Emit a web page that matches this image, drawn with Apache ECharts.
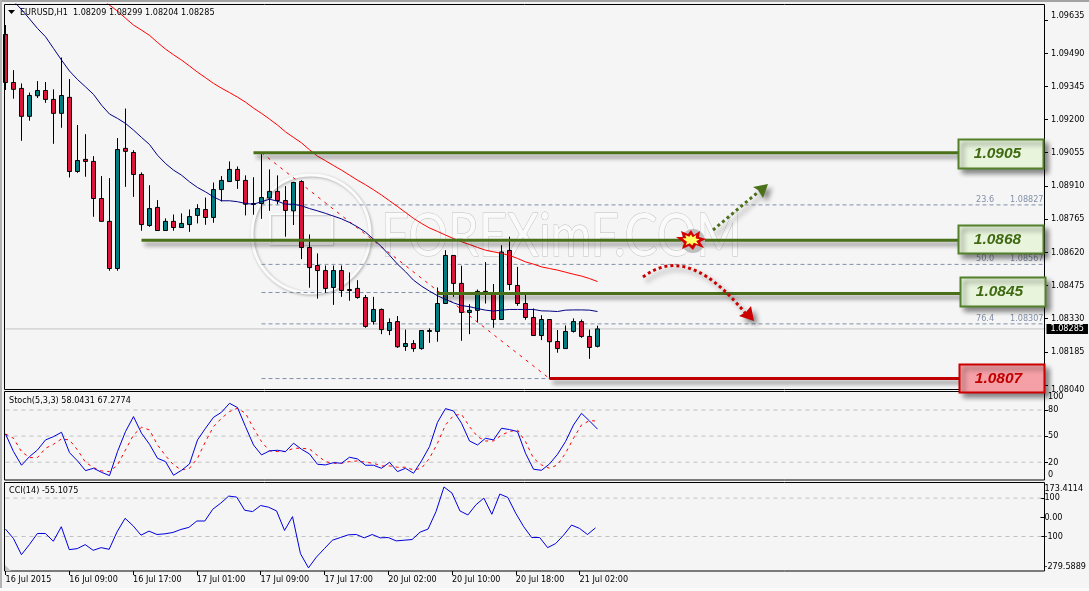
<!DOCTYPE html>
<html>
<head>
<meta charset="utf-8">
<script src="https://cdn.jsdelivr.net/npm/echarts@6/dist/echarts.min.js"></script>
<style>html,body{margin:0;padding:0;background:#f5f5f5}#c{width:1089px;height:591px}</style>
</head>
<body>
<div id="c"></div>
<script>
const timeLabels = ['16 Jul 2015','16 Jul 09:00','16 Jul 17:00','17 Jul 01:00','17 Jul 09:00','17 Jul 17:00','20 Jul 02:00','20 Jul 10:00','20 Jul 18:00','21 Jul 02:00'];
const opens = [1.09572,1.09362,1.09336,1.09214,1.09304,1.09327,1.09288,1.09227,1.09297,1.08973,
1.09026,1.09017,1.08855,1.08755,1.08549,1.09074,1.09056,1.08960,1.08737,1.08816,
1.08715,1.08755,1.08728,1.08741,1.08781,1.08807,1.08772,1.08894,1.08929,1.08982,
1.08934,1.08833,1.08833,1.08857,1.08886,1.08846,1.08801,1.08929,1.08641,1.08562,
1.08540,1.08466,1.08540,1.08457,1.08462,1.08422,1.08317,1.08370,1.08278,1.08317,
1.08208,1.08221,1.08199,1.08274,1.08274,1.08396,1.08606,1.08484,1.08357,1.08366,
1.08449,1.08440,1.08326,1.08628,1.08475,1.08396,1.08335,1.08256,1.08326,1.08230,
1.08199,1.08274,1.08317,1.08252,1.08209];
const closes = [1.09362,1.09332,1.09214,1.09305,1.09327,1.09288,1.09227,1.09305,1.08973,1.09021,
1.09017,1.08855,1.08755,1.08549,1.09069,1.09061,1.08960,1.08741,1.08811,1.08715,
1.08755,1.08728,1.08746,1.08776,1.08811,1.08772,1.08894,1.08934,1.08982,1.08934,
1.08830,1.08829,1.08859,1.08886,1.08846,1.08803,1.08925,1.08641,1.08553,1.08540,
1.08462,1.08540,1.08453,1.08453,1.08422,1.08296,1.08370,1.08282,1.08313,1.08207,
1.08221,1.08199,1.08278,1.08278,1.08396,1.08606,1.08484,1.08357,1.08366,1.08449,
1.08444,1.08326,1.08621,1.08479,1.08396,1.08335,1.08256,1.08326,1.08229,1.08199,
1.08274,1.08317,1.08252,1.08204,1.08285];
const highs = [1.09613,1.09416,1.09358,1.09318,1.09368,1.09364,1.09332,1.09471,1.09377,1.09176,
1.09136,1.09040,1.08953,1.08944,1.09119,1.09248,1.09066,1.08969,1.08913,1.08848,
1.08768,1.08785,1.08790,1.08807,1.08830,1.08859,1.08925,1.08953,1.09017,1.08995,
1.08956,1.08948,1.09049,1.08982,1.08956,1.08909,1.08928,1.08935,1.08698,1.08615,
1.08562,1.08562,1.08562,1.08532,1.08498,1.08433,1.08425,1.08374,1.08331,1.08341,
1.08282,1.08236,1.08278,1.08287,1.08466,1.08629,1.08606,1.08561,1.08393,1.08457,
1.08577,1.08481,1.08651,1.08688,1.08556,1.08433,1.08374,1.08345,1.08326,1.08280,
1.08300,1.08331,1.08326,1.08282,1.08299];
const lows = [1.09329,1.09291,1.09107,1.09195,1.09294,1.09273,1.09094,1.09164,1.08947,1.08967,
1.08950,1.08775,1.08755,1.08539,1.08539,1.08906,1.08862,1.08714,1.08731,1.08715,
1.08715,1.08714,1.08728,1.08709,1.08746,1.08740,1.08749,1.08842,1.08929,1.08897,
1.08781,1.08784,1.08766,1.08801,1.08830,1.08688,1.08739,1.08590,1.08465,1.08417,
1.08443,1.08390,1.08425,1.08408,1.08417,1.08290,1.08304,1.08262,1.08258,1.08202,
1.08189,1.08185,1.08194,1.08224,1.08229,1.08396,1.08425,1.08233,1.08262,1.08313,
1.08396,1.08290,1.08326,1.08454,1.08386,1.08325,1.08256,1.08236,1.08068,1.08181,
1.08199,1.08269,1.08246,1.08154,1.08204];
const maBlue = [null,1.09718,1.09681,1.09640,1.09598,1.09562,1.09511,1.09460,1.09412,1.09375,
1.09343,1.09310,1.09263,1.09224,1.09205,1.09183,1.09154,1.09122,1.09091,1.09044,
1.09008,1.08979,1.08957,1.08928,1.08903,1.08884,1.08862,1.08845,1.08845,1.08841,
1.08833,1.08830,1.08841,1.08852,1.08843,1.08830,1.08830,1.08823,1.08811,1.08801,
1.08790,1.08778,1.08766,1.08750,1.08731,1.08708,1.08677,1.08644,1.08607,1.08568,
1.08535,1.08498,1.08472,1.08450,1.08430,1.08414,1.08399,1.08387,1.08382,1.08374,
1.08367,1.08363,1.08367,1.08370,1.08370,1.08370,1.08370,1.08364,1.08363,1.08361,
1.08367,1.08368,1.08368,1.08367,1.08361];
const maRed = [null,null,null,null,null,null,null,null,null,null,null,null,1.09729,1.09700,1.09674,1.09643,1.09613,1.09591,1.09568,1.09537,
1.09508,1.09483,1.09460,1.09434,1.09407,1.09383,1.09358,1.09337,1.09318,1.09298,
1.09276,1.09250,1.09227,1.09202,1.09176,1.09146,1.09122,1.09098,1.09068,1.09040,
1.09020,1.08999,1.08979,1.08957,1.08935,1.08915,1.08893,1.08870,1.08845,1.08820,
1.08794,1.08768,1.08746,1.08726,1.08711,1.08695,1.08680,1.08666,1.08654,1.08641,
1.08629,1.08622,1.08615,1.08606,1.08593,1.08578,1.08568,1.08556,1.08549,1.08542,
1.08533,1.08524,1.08516,1.08505,1.08492];
const stochMain = [52.5,32.2,16.5,26.4,34.1,45.6,49.4,54.4,31.0,21.5,
10.3,13.0,8.4,4.6,32.2,55.2,72.4,53.3,40.6,24.5,
20.7,5.0,10.7,18.0,45.6,59.0,71.6,77.4,87.7,82.8,
60.9,39.8,28.4,33.0,33.7,32.2,41.8,34.9,29.5,17.6,
16.9,19.5,18.8,25.7,23.8,16.5,16.5,13.0,19.9,9.2,
13.0,7.3,21.5,37.9,65.9,81.6,78.9,64.8,44.4,39.8,
47.5,45.6,59.0,57.5,55.2,30.3,11.9,10.7,18.0,29.1,
43.7,62.8,76.2,67.4,58.04];
const stochSignal = [52.5,47.5,32.2,25.3,25.3,36.0,40.6,46.7,45.6,34.1,
19.9,13.8,10.0,9.2,16.9,34.1,51.3,60.2,57.1,39.8,
27.6,16.9,11.1,13.0,24.5,43.7,60.9,70.5,78.2,82.0,
76.2,59.0,43.7,33.0,32.2,32.2,36.0,36.0,35.2,27.6,
20.7,18.8,18.8,20.7,21.5,19.9,18.8,15.7,15.7,14.2,
14.2,11.1,13.0,24.5,41.8,62.8,73.6,75.1,60.9,49.4,
44.4,44.4,51.3,55.2,57.1,43.7,24.5,16.9,13.0,16.9,
30.3,47.5,62.8,67.8,67.28];
const cciValues = [-61.4,-110.5,-194.7,-142.1,-84.2,-84.2,-124.6,-49.1,-168.4,-163.2,
-142.1,-171.9,-157.9,-166.7,-75.4,-5.3,-43.9,-93.0,-71.9,-89.5,
-86.0,-78.9,-63.2,-52.6,-19.3,-19.3,42.1,73.7,110.5,105.3,
36.8,29.8,61.4,52.6,33.3,-68.4,3.5,-189.5,-263.2,-207.0,
-163.2,-119.3,-105.3,-91.2,-89.5,-107.0,-89.5,-107.0,-105.3,-122.8,
-119.3,-115.8,-77.2,-61.4,29.8,157.9,126.3,33.3,12.3,64.9,
100.0,15.8,121.1,103.5,21.1,-49.1,-105.3,-105.3,-157.9,-136.8,
-93.0,-40.4,-57.9,-89.5,-55.1];
const priceTicks = [1.09635,1.09490,1.09345,1.09200,1.09055,1.08910,1.08765,1.08620,1.08475,1.08330,1.08185,1.08040];
const stochTicks = [0,20,50,80,100];
const stochLevels = [20,50,80];
const cciTicks = [-279.5889,-100,0,100,173.4114];
const cciLevels = [-100,100];
const fibPercents = ['23.6','50.0','61.8','76.4','100.0'];
const fibPrices = [1.08827,1.08567,1.08444,1.08307,1.08068];
const fibSlope = [1.09055,1.08068];
const levelNames = ['1.0905','1.0868','1.0845','1.0807'];
const levelPrices = [1.09055,1.08673,1.08440,1.08068];
const levelStarts = [31,17,54,68];
const lastPrice = 1.08285;

const TEAL='#007b80', CRIMSON='#dc143c', GREEN='#4a7019', DARKRED='#c00000';
const N = 131, LAST = 130, EVERY = 8;
const categories = Array.from({length:N},(_, i)=> (i%EVERY===0 && timeLabels[i/EVERY]) ? timeLabels[i/EVERY] : '');
const FONT = '"DejaVu Sans Condensed","DejaVu Sans"';
const FS = 9;
const TICK = {fontFamily:FONT,fontSize:FS,color:'#000'};
const candles = opens.map((o,i)=>[o,closes[i],lows[i],highs[i]]);

const grids = [
  {left:1.5,top:4,width:1048,height:386},
  {left:1.5,top:392.6,width:1048,height:87},
  {left:1.5,top:484,width:1048,height:87}
];
const xAxes = grids.map((g,i)=>({
  type:'category',gridIndex:i,data:categories,show:i===2,position:'bottom',
  axisLine:{show:false,onZero:false},
  axisTick:{show:i===2,length:4,alignWithLabel:true,interval:(k,v)=>v!=='',lineStyle:{color:'#000'}},
  axisLabel:{show:i===2,interval:(k,v)=>v!=='',align:'left',margin:4,...TICK},
  splitLine:{show:false}
}));
function yAxisFor(grid,min,max,ticks,labelVals,fmt,margin){
  return {type:'value',gridIndex:grid,min,max,position:'right',offset:-5.5,scale:true,
    axisLine:{show:false,onZero:false},
    axisTick:{show:true,length:4,customValues:ticks,lineStyle:{color:'#000'}},
    axisLabel:{show:true,customValues:labelVals,margin,formatter:fmt,showMinLabel:true,showMaxLabel:true,hideOverlap:false,
      verticalAlignMinLabel:'bottom',verticalAlignMaxLabel:'top',...TICK},
    splitLine:{show:false}};
}
const yAxes = [
  yAxisFor(0,1.08018,1.09705,priceTicks,priceTicks,v=>v.toFixed(5),7),
  yAxisFor(1,0,100,stochLevels,stochTicks,v=>String(v),4),
  yAxisFor(2,-279.5889,173.4114,[100,0,-100],cciTicks,v=>v===0?'0.00':String(v),4)
];

function line(grid,data,style,extra){
  return Object.assign({type:'line',xAxisIndex:grid,yAxisIndex:grid,data,symbol:'none',silent:true,
    lineStyle:Object.assign({width:1},style),z:3,animation:false},extra||{});
}
const series = [];
series.push(line(0,[[0,lastPrice],[LAST,lastPrice]],{color:'#c4c4c4'},{z:1,
  endLabel:{show:true,distance:1,formatter:()=>lastPrice.toFixed(5),color:'#fff',backgroundColor:'#000',padding:[1,4,0,4],fontFamily:FONT,fontSize:FS}}));
fibPrices.forEach((p,i)=>{
  const labelled = i!==2 && i!==4;
  series.push(line(0,[[32,p],[LAST,p]],{color:'#8190a8',type:[4,3]},{z:1,
    endLabel:{show:labelled,align:'right',verticalAlign:'bottom',distance:0,offset:[-2,-1],
      formatter:()=>`{a|${fibPercents[i]}}{b|${p.toFixed(5)}}`,
      rich:{a:{width:34,align:'left',color:'#8190a8',fontFamily:FONT,fontSize:FS},b:{align:'right',color:'#8190a8',fontFamily:FONT,fontSize:FS}}}}));
});
series.push({type:'candlestick',xAxisIndex:0,yAxisIndex:0,data:candles,barWidth:4,silent:true,animation:false,z:2,
  itemStyle:{color:TEAL,color0:CRIMSON,borderColor:'#000',borderColor0:'#000',borderWidth:1}});
series.push(line(0,[[32,fibSlope[0]],[68,fibSlope[1]]],{color:'#ff0000',type:[3,5]}));
series.push(line(0,maBlue,{color:'#000080'}));
series.push(line(0,maRed,{color:'#ff0000'}));
levelPrices.forEach((p,i)=>{
  series.push(line(0,[[levelStarts[i],p],[120,p]],{width:3,color:i===3?DARKRED:GREEN,shadowColor:'rgba(0,0,0,0.45)',shadowBlur:4,shadowOffsetX:3,shadowOffsetY:4},{z:4}));
});
stochLevels.forEach(v=>series.push(line(1,[[0,v],[LAST,v]],{color:'#c0c0c0',type:[4,4]},{z:1})));
series.push(line(1,stochSignal,{color:'#ff0000',type:[3,4]}));
series.push(line(1,stochMain,{color:'#0000dd'}));
cciLevels.forEach(v=>series.push(line(2,[[0,v],[LAST,v]],{color:'#c0c0c0',type:[4,4]},{z:1})));
series.push(line(2,cciValues,{color:'#0000dd'}));

const shadow = {shadowColor:'rgba(0,0,0,0.45)',shadowBlur:5,shadowOffsetX:4,shadowOffsetY:4};
const frameStyle = {fill:'none',stroke:'#000',lineWidth:1};
const text = (x,y,t,extra)=>({type:'text',x,y,z:20,silent:true,style:Object.assign({text:t,fill:'#000',font:FS+'px '+FONT,verticalAlign:'middle'},extra||{})});
const box = (x,y,w,h,label,fill,stroke,ink)=>[
  {type:'rect',z:30,silent:true,shape:{x:x+.5,y:y+.5,width:w,height:h},style:Object.assign({fill,stroke,lineWidth:2},shadow)},
  {type:'text',z:31,silent:true,x:x+w/2-3,y:y+h/2+.5,style:{text:label,fill:ink,font:'italic bold 15.5px "Liberation Sans"',align:'center',verticalAlign:'middle'}}
];
const burst = [[-15,-3],[-8,-3],[-10,-9],[-3,-6],[0,-10],[3,-5],[9,-9],[8,-3],[15,-1],[9,2],[13,8],[5,5],[2,10],[-2,6],[-9,9],[-7,3]];

const graphic = [
  {type:'rect',z:0,silent:true,shape:{x:0,y:0,width:1089,height:2},style:{fill:'#a3a3a3'}},
  {type:'rect',z:0,silent:true,shape:{x:0,y:0,width:2,height:591},style:{fill:'#b4b4b4'}},
  {type:'rect',z:0,silent:true,shape:{x:0,y:588,width:1089,height:3},style:{fill:'#fafafa'}},
  // watermark
  {type:'circle',z:1,silent:true,shape:{cx:311,cy:234,r:59},style:{fill:'none',stroke:'#fbfbfb',lineWidth:3,shadowColor:'rgba(0,0,0,0.3)',shadowBlur:3,shadowOffsetX:1,shadowOffsetY:1}},
  {type:'rect',z:1,silent:true,shape:{x:270,y:214,width:62,height:30},style:{fill:'none',stroke:'#fbfbfb',lineWidth:2,shadowColor:'rgba(0,0,0,0.2)',shadowBlur:2,shadowOffsetX:1,shadowOffsetY:1}},
  {type:'text',z:1,silent:true,x:381,y:237,scaleX:0.82,style:{text:'FOREXimF.COM',font:'60px Lato',fill:'#fafafa',stroke:'#bdbdbd',lineWidth:1,verticalAlign:'middle',shadowColor:'rgba(0,0,0,0.4)',shadowBlur:3,shadowOffsetX:2,shadowOffsetY:2}},
  // frames
  {type:'rect',z:10,silent:true,shape:{x:4.5,y:4.5,width:1040,height:385},style:frameStyle},
  {type:'rect',z:10,silent:true,shape:{x:4.5,y:391.5,width:1040,height:88.5},style:frameStyle},
  {type:'rect',z:10,silent:true,shape:{x:4.5,y:482.5,width:1040,height:88.5},style:frameStyle},
  {type:'polygon',z:10,silent:true,shape:{points:[[5,565],[11,571],[5,571]]},style:{fill:'#c0c0c0'}},
  {type:'polygon',z:20,silent:true,shape:{points:[[8,10],[15,10],[11.5,14]]},style:{fill:'#000'}},
  text(20,12.5,'EURUSD,H1  1.08209 1.08299 1.08204 1.08285'),
  text(9,400.5,'Stoch(5,3,3) 58.0431 67.2774'),
  text(9,491,'CCI(14) -55.1075'),
  // arrows
  {type:'line',z:12,silent:true,shape:{x1:713,y1:230,x2:757,y2:193},style:Object.assign({stroke:GREEN,lineWidth:3,lineDash:[3,3]},shadow)},
  {type:'polygon',z:12,silent:true,shape:{points:[[768,184],[763,198],[758,190],[753,187]]},style:Object.assign({fill:GREEN},shadow)},
  {type:'bezierCurve',z:12,silent:true,shape:{x1:643,y1:277,cpx1:668,cpy1:258,cpx2:700,cpy2:258,x2:746,y2:314},style:Object.assign({stroke:'#cc0000',fill:'none',lineWidth:3,lineDash:[3,3]},shadow)},
  {type:'polygon',z:12,silent:true,shape:{points:[[754,321],[739,316],[746,312],[751,306]]},style:Object.assign({fill:'#cc0000'},shadow)},
  // burst
  {type:'circle',z:12,silent:true,shape:{cx:693,cy:241,r:12},style:{fill:'#b8b8b8',opacity:.9}},
  {type:'polygon',z:13,silent:true,x:691,y:240,shape:{points:burst},style:{fill:'#d40000'}},
  {type:'polygon',z:14,silent:true,x:691,y:240,shape:{points:burst.map(p=>[p[0]*.58,p[1]*.55])},style:{fill:'#ffff66'}},
  // level boxes
  ...box(958,139,85,29,levelNames[0],'#e8f5dc','#55802b','#3f6a12'),
  ...box(958,225,85,28,levelNames[1],'#e8f5dc','#55802b','#3f6a12'),
  ...box(960,277,85,29,levelNames[2],'#e8f5dc','#55802b','#3f6a12'),
  ...box(959,364,85,28,levelNames[3],'#f4a0a6','#cc0000','#c00000')
];

const chart = echarts.init(document.getElementById('c'),null,{renderer:'canvas'});
chart.setOption({animation:false,backgroundColor:'#f5f5f5',grid:grids,xAxis:xAxes,yAxis:yAxes,series,graphic,tooltip:{show:false}});
</script>
</body>
</html>
